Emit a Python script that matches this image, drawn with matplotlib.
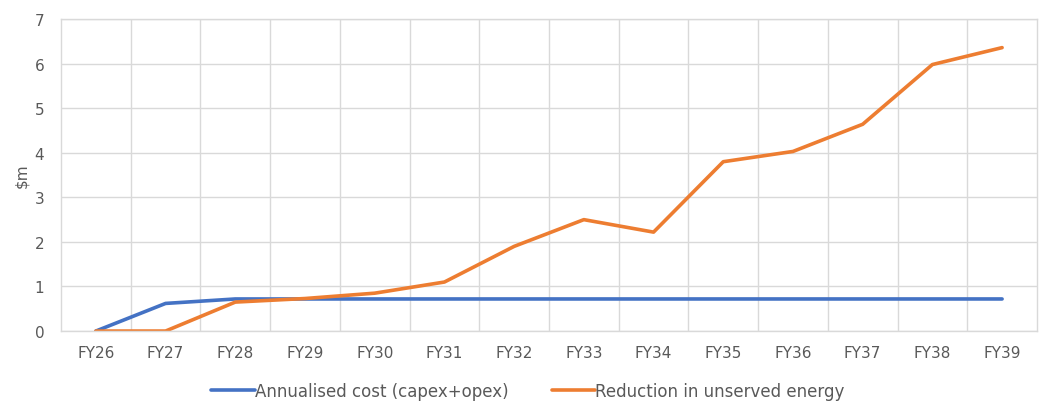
import matplotlib
matplotlib.use("Agg")
import matplotlib.pyplot as plt

# Annual values, $m
years = ["FY26", "FY27", "FY28", "FY29", "FY30", "FY31", "FY32",
         "FY33", "FY34", "FY35", "FY36", "FY37", "FY38", "FY39"]
annualised_cost = [0.0, 0.62, 0.72, 0.72, 0.72, 0.72, 0.72,
                   0.72, 0.72, 0.72, 0.72, 0.72, 0.72, 0.72]
unserved_energy = [0.0, 0.0, 0.65, 0.73, 0.85, 1.1, 1.9,
                   2.5, 2.22, 3.8, 4.03, 4.64, 5.98, 6.36]

TEXT = "#595959"
GRID = "#d9d9d9"

plt.rcParams["font.family"] = ["DejaVu Sans"]

fig = plt.figure(figsize=(10.45, 4.02), dpi=100)
ax = fig.add_axes([0.0584, 0.174, 0.9339, 0.776])

x = list(range(len(years)))
l1, = ax.plot(x, annualised_cost, color="#4472C4", linewidth=2.6,
              solid_capstyle="round", label="Annualised cost (capex+opex)")
l2, = ax.plot(x, unserved_energy, color="#ED7D31", linewidth=2.6,
              solid_capstyle="round", label="Reduction in unserved energy")

ax.set_xlim(-0.5, len(years) - 0.5)
ax.set_ylim(0, 7)
ax.set_yticks(range(0, 8))
ax.set_xticks(x)
ax.set_xticklabels(years)

# gridlines sit on category boundaries, Excel style
for b in range(1, len(years)):
    ax.axvline(b - 0.5, color=GRID, linewidth=1.0, zorder=0)
ax.yaxis.grid(True, color=GRID, linewidth=1.0, zorder=0)
ax.set_axisbelow(True)

for s in ax.spines.values():
    s.set_color(GRID)
    s.set_linewidth(1.0)

ax.tick_params(axis="both", length=0, colors=TEXT, labelsize=11)
ax.tick_params(axis="x", pad=10)
ax.tick_params(axis="y", pad=12)
ax.set_ylabel("$m", color=TEXT, fontsize=11, labelpad=4)

fig.legend(handles=[l1, l2], loc="center", bbox_to_anchor=(0.505, 0.025),
           ncol=2, frameon=False, fontsize=12, labelcolor=TEXT,
           handlelength=2.6, handletextpad=0.0, columnspacing=2.6)

fig.savefig("out.png", dpi=100)
